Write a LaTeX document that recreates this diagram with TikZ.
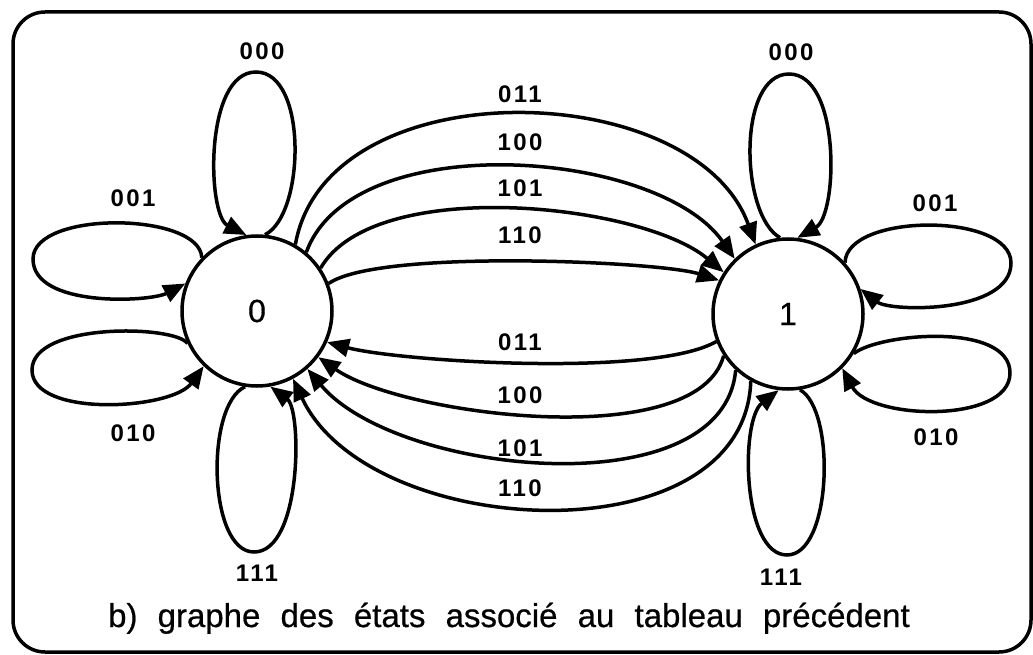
\documentclass[tikz,border=0pt]{standalone}
\usepackage{fontspec}
\setmainfont{Liberation Sans}
\newfontfamily\digitfont[LetterSpace=10]{Liberation Sans}
\newfontfamily\capfont[WordSpace=2.2,FakeBold=0.6]{Liberation Sans}
\usepackage{tikz}
\usetikzlibrary{arrows.meta}

\begin{document}
\begin{tikzpicture}[x=1pt, y=1pt, line width=3.5pt,
  etat/.style={draw, circle, minimum size=150pt, inner sep=0pt, font=\capfont\fontsize{32}{32}\selectfont},
  trans/.style={-{Triangle[length=22pt,width=18pt]}},
  lbl/.style={inner sep=0pt, font=\digitfont\bfseries\fontsize{24}{24}\selectfont}]
\useasboundingbox (0,0) rectangle (1033,654);
% frame
\draw[rounded corners=32pt] (13,2) rectangle (1031,642);
% the two states
\node[etat] (s0) at (257,343) {0};
\node[etat] (s1) at (788,340) {1};
% self loops of state 0
\draw[trans] (s0.84) .. controls (305,439) and (308,582) .. (256,582) .. controls (204,582) and (207,439) .. (s0.98);
\draw[trans] (s0.136) .. controls (200,442) and (33,444) .. (33,395) .. controls (33,346) and (150,352) .. (s0.159);
\draw[trans] (s0.205) .. controls (175,329) and (32,332) .. (32,284) .. controls (32,236) and (172,244) .. (s0.226);
\draw[trans] (s0.261) .. controls (205,249) and (208,102) .. (254,102) .. controls (302,102) and (302,244) .. (s0.280);
% self loops of state 1
\draw[trans] (s1.96) .. controls (740,439) and (737,580) .. (789,580) .. controls (841,580) and (838,439) .. (s1.83);
\draw[trans] (s1.42) .. controls (846,441) and (1011,442) .. (1011,391) .. controls (1011,340) and (890,342) .. (s1.19);
\draw[trans] (s1.329) .. controls (880,321) and (1010,332) .. (1010,281) .. controls (1010,230) and (870,234) .. (s1.315);
\draw[trans] (s1.279) .. controls (836,244) and (832,99) .. (787,99) .. controls (742,99) and (740,234) .. (s1.263);
% transitions 0 -> 1 and 1 -> 0
\foreach \a/\b/\o/\n/\l in {60/115/80/110/1, 50/134/70/125/0.8, 34/147/60/140/0.68, 21/154/35/162/0.4}
  \draw[trans] (s0.\a) to[out=\o, in=\n, looseness=\l] (s1.\b);
\foreach \a/\b/\o/\n/\l in {201/336/210/-15/0.48, 213/323/255/-35/0.64, 227/311/265/-50/0.83, 241/298/268/-65/1}
  \draw[trans] (s1.\a) to[out=\o, in=\n, looseness=\l] (s0.\b);
% input labels
\foreach \txt/\x/\y [count=\i] in {000/262/603, 001/133/456, 010/133/221, 111/257/81,
    000/791/602, 001/935/451, 010/936/217, 111/781/77,
    011/520/560, 100/520/512, 101/520/466, 110/520/419,
    011/520/312, 100/520/259, 101/520/206, 110/520/166}
  \node[lbl] (t\i) at (\x,\y) {\txt};
\node[anchor=base, font=\capfont\fontsize{33}{33}\selectfont] (cap) at (509,27) {b) graphe des états associé au tableau précédent};
\end{tikzpicture}
\end{document}
